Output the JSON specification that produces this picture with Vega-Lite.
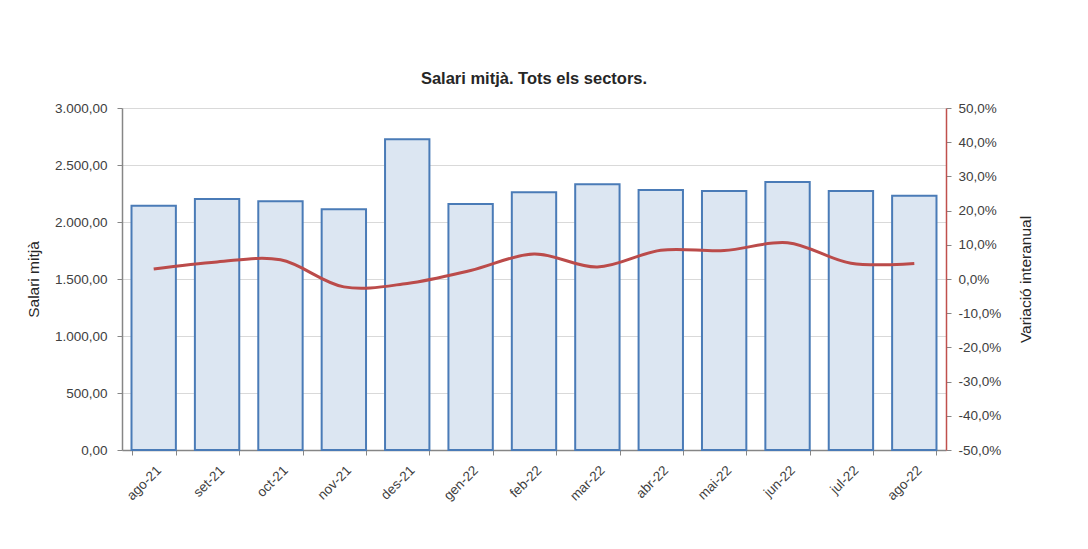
{
  "$schema": "https://vega.github.io/schema/vega-lite/v6.json",
  "autosize": "none",
  "width": 824,
  "height": 342,
  "padding": {"left": 122, "top": 108, "right": 142, "bottom": 99},
  "background": "white",
  "config": {
    "locale": {
      "number": {"decimal": ",", "thousands": ".", "grouping": [3], "currency": ["", " €"], "minus": "-"}
    },
    "font": "Liberation Sans",
    "view": {"stroke": null},
    "axis": {
      "labelFont": "Liberation Sans",
      "titleFont": "Liberation Sans",
      "labelFontSize": 13.5,
      "titleFontSize": 15.5,
      "labelColor": "#404040",
      "titleColor": "#262626",
      "titleFontWeight": "normal",
      "tickSize": 5
    },
    "title": {"font": "Liberation Sans", "fontSize": 16.5, "fontWeight": "bold", "color": "#262626"}
  },
  "title": {"text": "Salari mitjà. Tots els sectors.", "offset": 14},
  "data": {
    "values": [
      {"mes": "ago-21", "salari": 2143, "variacio": 0.029},
      {"mes": "set-21", "salari": 2202, "variacio": 0.050},
      {"mes": "oct-21", "salari": 2181, "variacio": 0.056},
      {"mes": "nov-21", "salari": 2111, "variacio": -0.023},
      {"mes": "des-21", "salari": 2725, "variacio": -0.013},
      {"mes": "gen-22", "salari": 2158, "variacio": 0.025},
      {"mes": "feb-22", "salari": 2260, "variacio": 0.073},
      {"mes": "mar-22", "salari": 2331, "variacio": 0.035},
      {"mes": "abr-22", "salari": 2281, "variacio": 0.084},
      {"mes": "mai-22", "salari": 2272, "variacio": 0.083},
      {"mes": "jun-22", "salari": 2351, "variacio": 0.106},
      {"mes": "jul-22", "salari": 2272, "variacio": 0.046},
      {"mes": "ago-22", "salari": 2231, "variacio": 0.045}
    ]
  },
  "encoding": {
    "x": {
      "field": "mes",
      "type": "nominal",
      "sort": null,
      "scale": {"paddingInner": 0.3, "paddingOuter": 0.15},
      "axis": {
        "title": null,
        "labelAngle": -45,
        "labelPadding": 8,
        "tickBand": "extent",
        "domainColor": "#868686",
        "tickColor": "#868686",
        "domainWidth": 1.5,
        "grid": false
      }
    }
  },
  "layer": [
    {
      "mark": {"type": "bar", "fill": "#dce6f2", "stroke": "#4a7bb7", "strokeWidth": 2},
      "encoding": {
        "y": {
          "field": "salari",
          "type": "quantitative",
          "scale": {"domain": [0, 3000], "nice": false},
          "axis": {
            "title": "Salari mitjà",
            "values": [0, 500, 1000, 1500, 2000, 2500, 3000],
            "format": ",.2f",
            "labelPadding": 10,
            "grid": true,
            "gridColor": "#d9d9d9",
            "domainColor": "#868686",
            "tickColor": "#868686",
            "domainWidth": 1.5,
            "titleX": -81
          }
        }
      }
    },
    {
      "mark": {"type": "line", "color": "#bb4b4a", "strokeWidth": 3, "interpolate": "catmull-rom"},
      "encoding": {
        "y": {
          "field": "variacio",
          "type": "quantitative",
          "scale": {"domain": [-0.5, 0.5], "nice": false},
          "axis": {
            "orient": "right",
            "title": "Variació interanual",
            "values": [-0.5, -0.4, -0.3, -0.2, -0.1, 0, 0.1, 0.2, 0.3, 0.4, 0.5],
            "format": ".1%",
            "labelPadding": 7,
            "grid": false,
            "domainColor": "#c0504d",
            "tickColor": "#868686",
            "domainWidth": 1.5,
            "titleAngle": -90,
            "titleBaseline": "top",
            "titleX": 72
          }
        }
      }
    }
  ],
  "resolve": {"scale": {"y": "independent"}}
}
